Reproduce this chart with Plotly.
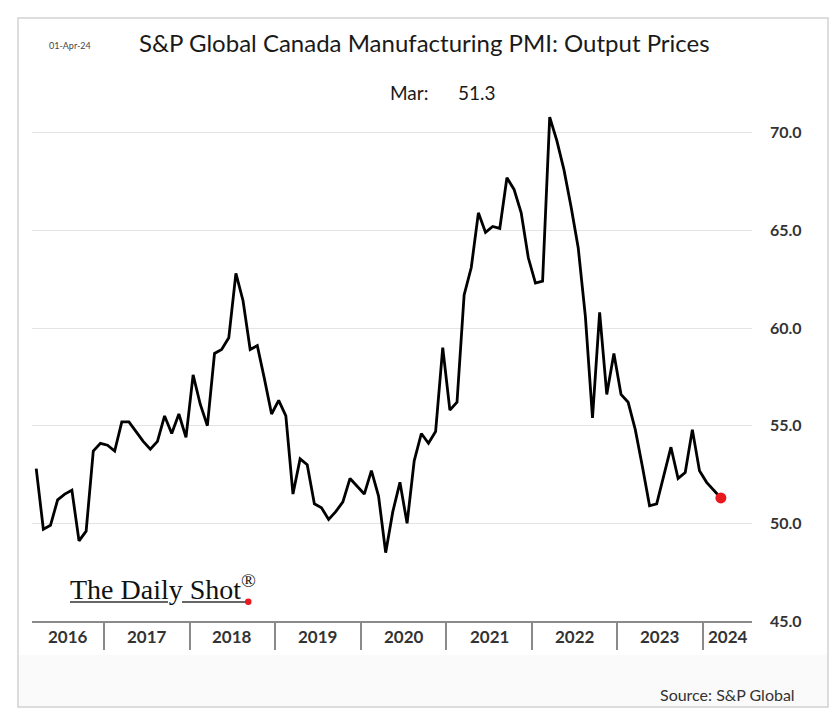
import pandas as pd
import plotly.graph_objects as go

# ---- data (monthly, Mar 2016 .. Mar 2024) ----
start_month = "2016-03"
values = [
    # 2016 Mar-Dec
    52.8, 49.7, 49.9, 51.2, 51.5, 51.7, 49.1, 49.6, 53.7, 54.1,
    # 2017
    54.0, 53.7, 55.2, 55.2, 54.7, 54.2, 53.8, 54.2, 55.5, 54.6, 55.6, 54.4,
    # 2018
    57.6, 56.1, 55.0, 58.7, 58.9, 59.5, 62.8, 61.4, 58.9, 59.1, 57.4, 55.6,
    # 2019
    56.3, 55.5, 51.5, 53.3, 53.0, 51.0, 50.8, 50.2, 50.6, 51.1, 52.3, 51.9,
    # 2020
    51.5, 52.7, 51.4, 48.5, 50.6, 52.1, 50.0, 53.2, 54.6, 54.1, 54.7, 59.0,
    # 2021
    55.8, 56.2, 61.7, 63.1, 65.9, 64.9, 65.2, 65.1, 67.7, 67.1, 65.9, 63.6,
    # 2022
    62.3, 62.4, 70.8, 69.6, 68.1, 66.2, 64.1, 60.6, 55.4, 60.8, 56.6, 58.7,
    # 2023
    56.6, 56.2, 54.8, 52.9, 50.9, 51.0, 52.5, 53.9, 52.3, 52.6, 54.8, 52.7,
    # 2024 Jan-Mar
    52.1, 51.7, 51.3,
]
year_labels = ["2016", "2017", "2018", "2019", "2020", "2021", "2022", "2023", "2024"]
y_ticks = [45, 50, 55, 60, 65, 70]

title_text = "S&P Global Canada Manufacturing PMI: Output Prices"
date_text = "01-Apr-24"
source_text = "Source: S&P Global"

months = pd.date_range(start_month, periods=len(values), freq="MS")
xnum = [d.year + (d.month - 0.5) / 12 for d in months]

x_min, x_max = 2016.159, 2024.572
y_min, y_max = 45, 72.6

# plot area in pixels
W, H = 838, 711
L, R, T, B = 32, 752, 82, 621


def px(x):
    return (x - L) / (R - L)


def py(y):
    return (B - y) / (B - T)


fig = go.Figure()
fig.add_trace(go.Scatter(
    x=xnum, y=values, mode="lines",
    line=dict(color="#000000", width=2.8),
    hoverinfo="skip", showlegend=False,
))
fig.add_trace(go.Scatter(
    x=[xnum[-1]], y=[values[-1]], mode="markers",
    marker=dict(color="#e8191e", size=11),
    hoverinfo="skip", showlegend=False,
))

year_bounds = [int(y) for y in year_labels[1:]]

annotations = []
# year labels centred in each visible year span
for lab in year_labels:
    yr = int(lab)
    a, b = max(yr, x_min), min(yr + 1, x_max)
    annotations.append(dict(
        x=(a + b) / 2, y=y_min, xref="x", yref="y", yshift=-15,
        text=f"<b>{lab}</b>", showarrow=False, yanchor="middle",
        font=dict(family="Lato", size=17, color="#333333"),
    ))

last = months[-1]
annotations += [
    dict(x=px(137), y=py(42), xref="paper", yref="paper", xanchor="left", yanchor="middle",
         text=title_text, showarrow=False,
         font=dict(family="Lato", size=24, color="#1a1a1a")),
    dict(x=px(47), y=py(45), xref="paper", yref="paper", xanchor="left", yanchor="middle",
         text=date_text, showarrow=False,
         font=dict(family="Lato", size=9, color="#444444")),
    dict(x=px(388), y=py(92), xref="paper", yref="paper", xanchor="left", yanchor="middle",
         text=f"{last.strftime('%b')}:", showarrow=False,
         font=dict(family="Lato", size=19, color="#1a1a1a")),
    dict(x=px(456), y=py(92), xref="paper", yref="paper", xanchor="left", yanchor="middle",
         text=f"{values[-1]:.1f}", showarrow=False,
         font=dict(family="Lato", size=19, color="#1a1a1a")),
    dict(x=px(797), y=py(694), xref="paper", yref="paper", xanchor="right", yanchor="middle",
         text=source_text, showarrow=False,
         font=dict(family="Lato", size=16, color="#333333")),
    dict(x=px(68), y=py(587), xref="paper", yref="paper", xanchor="left", yanchor="middle",
         text="The Daily Shot<sup>®</sup>", showarrow=False,
         font=dict(family="Liberation Serif", size=28, color="#111111")),
]

shapes = [
    # bottom shaded band of frame
    dict(type="rect", xref="paper", yref="paper", layer="below",
         x0=px(18), x1=px(828), y0=py(707), y1=py(655),
         fillcolor="#fafafa", line=dict(width=0)),
    # frame
    dict(type="rect", xref="paper", yref="paper", layer="below",
         x0=px(18), x1=px(828), y0=py(707), y1=py(18),
         line=dict(color="#d2d2d2", width=1.5)),
    # logo underline
    dict(type="line", xref="paper", yref="paper",
         x0=px(70), x1=px(168), y0=py(602), y1=py(602),
         line=dict(color="#333333", width=1.5)),
    dict(type="line", xref="paper", yref="paper",
         x0=px(182), x1=px(246), y0=py(602), y1=py(602),
         line=dict(color="#333333", width=1.5)),
    dict(type="circle", xref="paper", yref="paper",
         x0=px(245), x1=px(251.5), y0=py(605), y1=py(598.5),
         fillcolor="#e8191e", line=dict(width=0)),
]

fig.update_layout(
    width=W, height=H,
    margin=dict(l=L, r=W - R, t=T, b=H - B),
    paper_bgcolor="white", plot_bgcolor="white",
    showlegend=False,
    annotations=annotations,
    shapes=shapes,
    xaxis=dict(
        range=[x_min, x_max], tickmode="array", tickvals=year_bounds,
        showticklabels=False, ticks="outside", ticklen=27, tickwidth=1.5,
        tickcolor="#8a8a8a", showgrid=False, zeroline=False,
        showline=True, linecolor="#8a8a8a", linewidth=1.5,
    ),
    yaxis=dict(
        range=[y_min, y_max], side="right", tickmode="array", tickvals=y_ticks,
        tickformat=".1f", ticks="", ticklabelstandoff=17,
        showgrid=True, gridcolor="#e4e4e4", gridwidth=1.2, zeroline=False,
        showline=False,
        tickfont=dict(family="Lato", size=16, color="#333333", weight="bold"),
    ),
)

fig.write_html("out.html")
